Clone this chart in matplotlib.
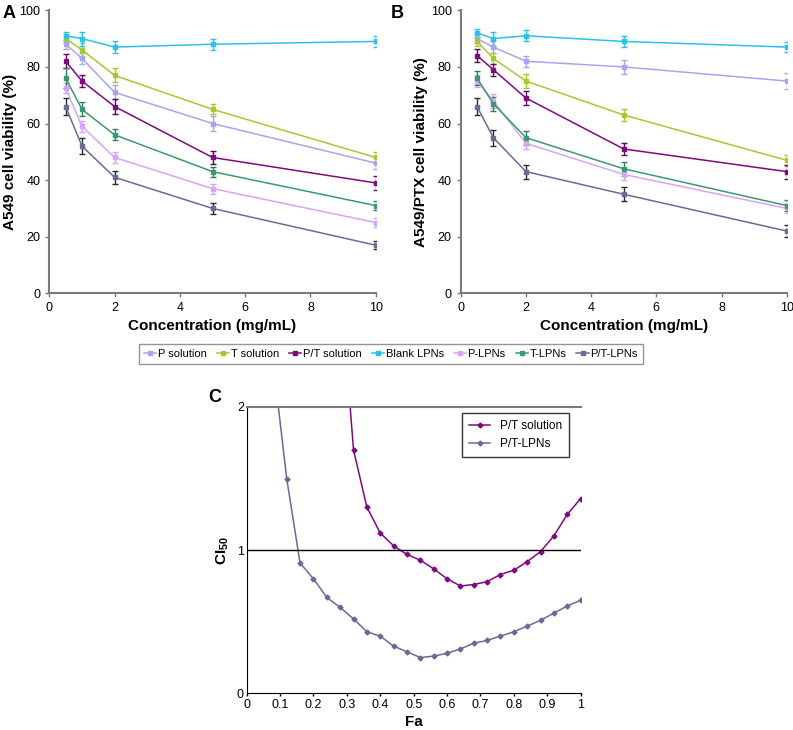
import numpy as np
import matplotlib.pyplot as plt
from matplotlib.lines import Line2D

plt.rcParams['font.family'] = ['Liberation Sans', 'DejaVu Sans']

conc = [0.5, 1, 2, 5, 10]
names = ['P solution', 'T solution', 'P/T solution', 'Blank LPNs', 'P-LPNs', 'T-LPNs', 'P/T-LPNs']
colors = ['#a6a6ee', '#a8c832', '#7e0a7e', '#2ec0ea', '#d6a6f4', '#3a9a6e', '#6a6a98']
ecolors = ['#a6a6ee', '#a8c832', '#5a0a5a', '#2ec0ea', '#d6a6f4', '#2f8060', '#2a2a2a']

# panel A: A549
via_a = [
    [88, 83, 71, 60, 46],
    [90, 86, 77, 65, 48],
    [82, 75, 66, 48, 39],
    [91, 90, 87, 88, 89],
    [72.5, 59, 48, 37, 25],
    [76, 65, 56, 43, 31],
    [66, 52, 41, 30, 17],
]
err_a = [
    [1.5, 2, 2.5, 2.5, 2],
    [1.5, 2.5, 2.5, 1.8, 1.8],
    [2.5, 2, 2.5, 2.2, 2.5],
    [1.5, 2.5, 2, 2, 1.8],
    [1.8, 2, 2, 1.8, 1.5],
    [3.5, 2.5, 2, 1.8, 1.5],
    [3, 2.8, 2.2, 1.8, 1.5],
]

# panel B: A549/PTX
via_b = [
    [90, 87, 82, 80, 75],
    [89, 83, 75, 63, 47],
    [84, 79, 69, 51, 43],
    [92, 90, 91, 89, 87],
    [75, 68, 53, 42, 30],
    [76, 67, 55, 44, 31],
    [66, 55, 43, 35, 22],
]
err_b = [
    [1.5, 2, 2, 2.5, 2.8],
    [1.5, 2, 2.5, 2, 2],
    [2.2, 2.2, 2.5, 2.2, 2.5],
    [1.5, 2.5, 2, 2, 1.8],
    [2, 2.5, 2, 2, 1.5],
    [2.5, 2.5, 2.5, 2.5, 2],
    [3, 2.8, 2.5, 2.5, 2],
]

# panel C: combination index
fa = [0.08, 0.12, 0.16, 0.20, 0.24, 0.28, 0.32, 0.36, 0.40, 0.44, 0.48, 0.52,
      0.56, 0.60, 0.64, 0.68, 0.72, 0.76, 0.80, 0.84, 0.88, 0.92, 0.96, 1.0]
ci_sol = [np.nan, np.nan, np.nan, np.nan, np.nan, 2.9, 1.70, 1.30, 1.12, 1.03, 0.97, 0.93,
          0.87, 0.80, 0.75, 0.76, 0.78, 0.83, 0.86, 0.92, 0.99, 1.10, 1.25, 1.36]
ci_lpn = [2.3, 1.50, 0.91, 0.80, 0.67, 0.60, 0.52, 0.43, 0.40, 0.33, 0.29, 0.25,
          0.26, 0.28, 0.31, 0.35, 0.37, 0.40, 0.43, 0.47, 0.51, 0.56, 0.61, 0.65]

fig = plt.figure(figsize=(7.93, 7.3), dpi=100)
axA = fig.add_axes([0.0622, 0.5982, 0.4116, 0.3877])
axB = fig.add_axes([0.581, 0.5982, 0.4111, 0.3877])
axC = fig.add_axes([0.311, 0.0502, 0.4212, 0.3923])

grey = '#7a7a7a'
for ax, data, errs, ylab in [(axA, via_a, err_a, 'A549 cell viability (%)'),
                             (axB, via_b, err_b, 'A549/PTX cell viability (%)')]:
    for i in range(len(names)):
        ax.errorbar(conc, data[i], yerr=errs[i], color=colors[i], ecolor=ecolors[i],
                    marker='s', markersize=3, linewidth=1.1, elinewidth=1, capsize=2, capthick=1)
    ax.set_xlim(0, 10)
    ax.set_ylim(0, 100)
    ax.set_xticks([0, 2, 4, 6, 8, 10])
    ax.set_yticks([0, 20, 40, 60, 80, 100])
    for s in ['top', 'right']:
        ax.spines[s].set_visible(False)
    for s in ['left', 'bottom']:
        ax.spines[s].set_color(grey)
        ax.spines[s].set_linewidth(1.5)
    ax.tick_params(direction='out', length=3, width=1, color=grey, labelsize=9)
    ax.set_xlabel('Concentration (mg/mL)', fontsize=11, fontweight='bold', labelpad=3)
    ax.set_ylabel(ylab, fontsize=11, fontweight='bold', labelpad=2)

fig.text(0.003, 0.982, 'A', fontsize=13, fontweight='bold', va='center')
fig.text(0.493, 0.982, 'B', fontsize=13, fontweight='bold', va='center')
fig.text(0.262, 0.456, 'C', fontsize=13, fontweight='bold', va='center')

handles = [Line2D([], [], color=colors[i], marker='s', markersize=2.5, linewidth=1.1) for i in range(len(names))]
fig.legend(handles, names, loc='center', bbox_to_anchor=(0.493, 0.5155), ncol=7, fontsize=8.0,
           frameon=True, fancybox=False, edgecolor=grey, handlelength=1.1, handletextpad=0.15,
           columnspacing=0.9, borderpad=0.45, borderaxespad=0)

# panel C
axC.plot(fa, ci_sol, color='#7e0a7e', marker='D', markersize=2.5, linewidth=1.1, label='P/T solution')
axC.plot(fa, ci_lpn, color='#6a6a98', marker='D', markersize=2.5, linewidth=1.1, label='P/T-LPNs')
axC.axhline(1, color='black', linewidth=1)
axC.set_xlim(0, 1)
axC.set_ylim(0, 2)
axC.set_xticks(np.round(np.arange(0, 1.01, 0.1), 1))
axC.set_xticklabels(['0', '0.1', '0.2', '0.3', '0.4', '0.5', '0.6', '0.7', '0.8', '0.9', '1'])
axC.set_yticks([0, 1, 2])
axC.spines['right'].set_visible(False)
axC.spines['top'].set_color(grey)
axC.spines['top'].set_linewidth(1.5)
axC.spines['left'].set_color('black')
axC.spines['bottom'].set_color('black')
axC.tick_params(direction='out', length=2, width=1, labelsize=9, pad=2)
axC.tick_params(axis='y', length=0)
axC.set_xlabel('Fa', fontsize=11, fontweight='bold', labelpad=3)
axC.set_ylabel('CI$_{\\mathregular{50}}$', fontsize=11, fontweight='bold', labelpad=4)
axC.legend(loc='upper right', bbox_to_anchor=(0.965, 0.98), fontsize=8.5, frameon=True, fancybox=False,
           edgecolor='black', handlelength=1.8, borderpad=0.6, borderaxespad=0)

fig.savefig('out.png', dpi=100)
